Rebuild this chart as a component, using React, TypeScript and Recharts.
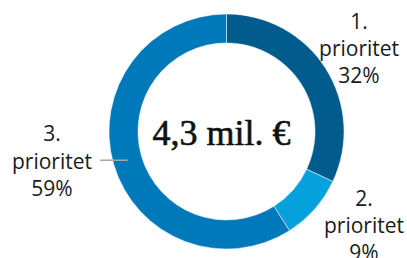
import React from "react";
import { PieChart, Pie, Cell, Label } from "recharts";

const categories = ["1.", "2.", "3."];
const categoryWord = ["prioritet", "prioritet", "prioritet"];
const shares = [32, 9, 59];
const centerLabel = "4,3 mil. €";

const COLORS = ["#015b8c", "#05a1dc", "#0079ba"];

// label layout: radius from center, and offsets (styling only)
const LABEL_LAYOUT = [
  { r: 157, dx: 0, dy: 0, leader: false },
  { r: 157, dx: 19.7, dy: -10.9, leader: false },
  { r: 103, dx: -75.6, dy: 0, leader: true },
];

const data = categories.map((c, i) => ({
  name: c,
  word: categoryWord[i],
  value: shares[i],
}));

const RAD = Math.PI / 180;
const LINE_H = 27.4;
const FONT = "'Open Sans', sans-serif";

const renderLabel = (props: any) => {
  const { cx, cy, midAngle, index } = props;
  const lay = LABEL_LAYOUT[index];
  const px = cx + lay.r * Math.cos(-midAngle * RAD);
  const py = cy + lay.r * Math.sin(-midAngle * RAD);
  const x = px + lay.dx;
  const midBase = py + lay.dy + 8.6;
  const d = data[index];
  return (
    <g key={`lbl-${index}`}>
      {lay.leader && (
        <line x1={px} y1={py} x2={px - 27.6} y2={py} stroke="#a6a6a6" strokeWidth={1.5} />
      )}
      <text
        x={x}
        y={midBase}
        textAnchor="middle"
        fontFamily={FONT}
        fontSize={21}
        fill="#1a1a1a"
      >
        <tspan x={x} y={midBase - LINE_H}>{d.name}</tspan>
        <tspan x={x} y={midBase}>{d.word}</tspan>
        <tspan x={x} y={midBase + LINE_H}>{`${d.value}%`}</tspan>
      </text>
    </g>
  );
};

const renderCenter = (props: any) => {
  const vb = props.viewBox || {};
  const cx = vb.cx ?? 226.5;
  const cy = vb.cy ?? 131.5;
  return (
    <text
      x={cx - 5}
      y={cy + 13.5}
      textAnchor="middle"
      fontFamily="'Liberation Serif', serif"
      fontSize={36}
      fill="#111"
      stroke="#111"
      strokeWidth={0.6}
    >
      {centerLabel}
    </text>
  );
};

export default function App() {
  return (
    <div style={{ position: "absolute", left: 0, top: 0, background: "#fff" }}>
      <PieChart width={407} height={258} margin={{ top: 0, right: 0, bottom: 0, left: 0 }}>
        <Pie
          data={data}
          dataKey="value"
          nameKey="name"
          cx={226.5}
          cy={131.5}
          innerRadius={88.5}
          outerRadius={117.5}
          startAngle={90}
          endAngle={-270}
          stroke="#ffffff"
          strokeWidth={0.5}
          label={renderLabel}
          labelLine={false}
          isAnimationActive={false}
        >
          {data.map((_, i) => (
            <Cell key={i} fill={COLORS[i]} />
          ))}
          <Label position="center" content={renderCenter} />
        </Pie>
      </PieChart>
    </div>
  );
}
